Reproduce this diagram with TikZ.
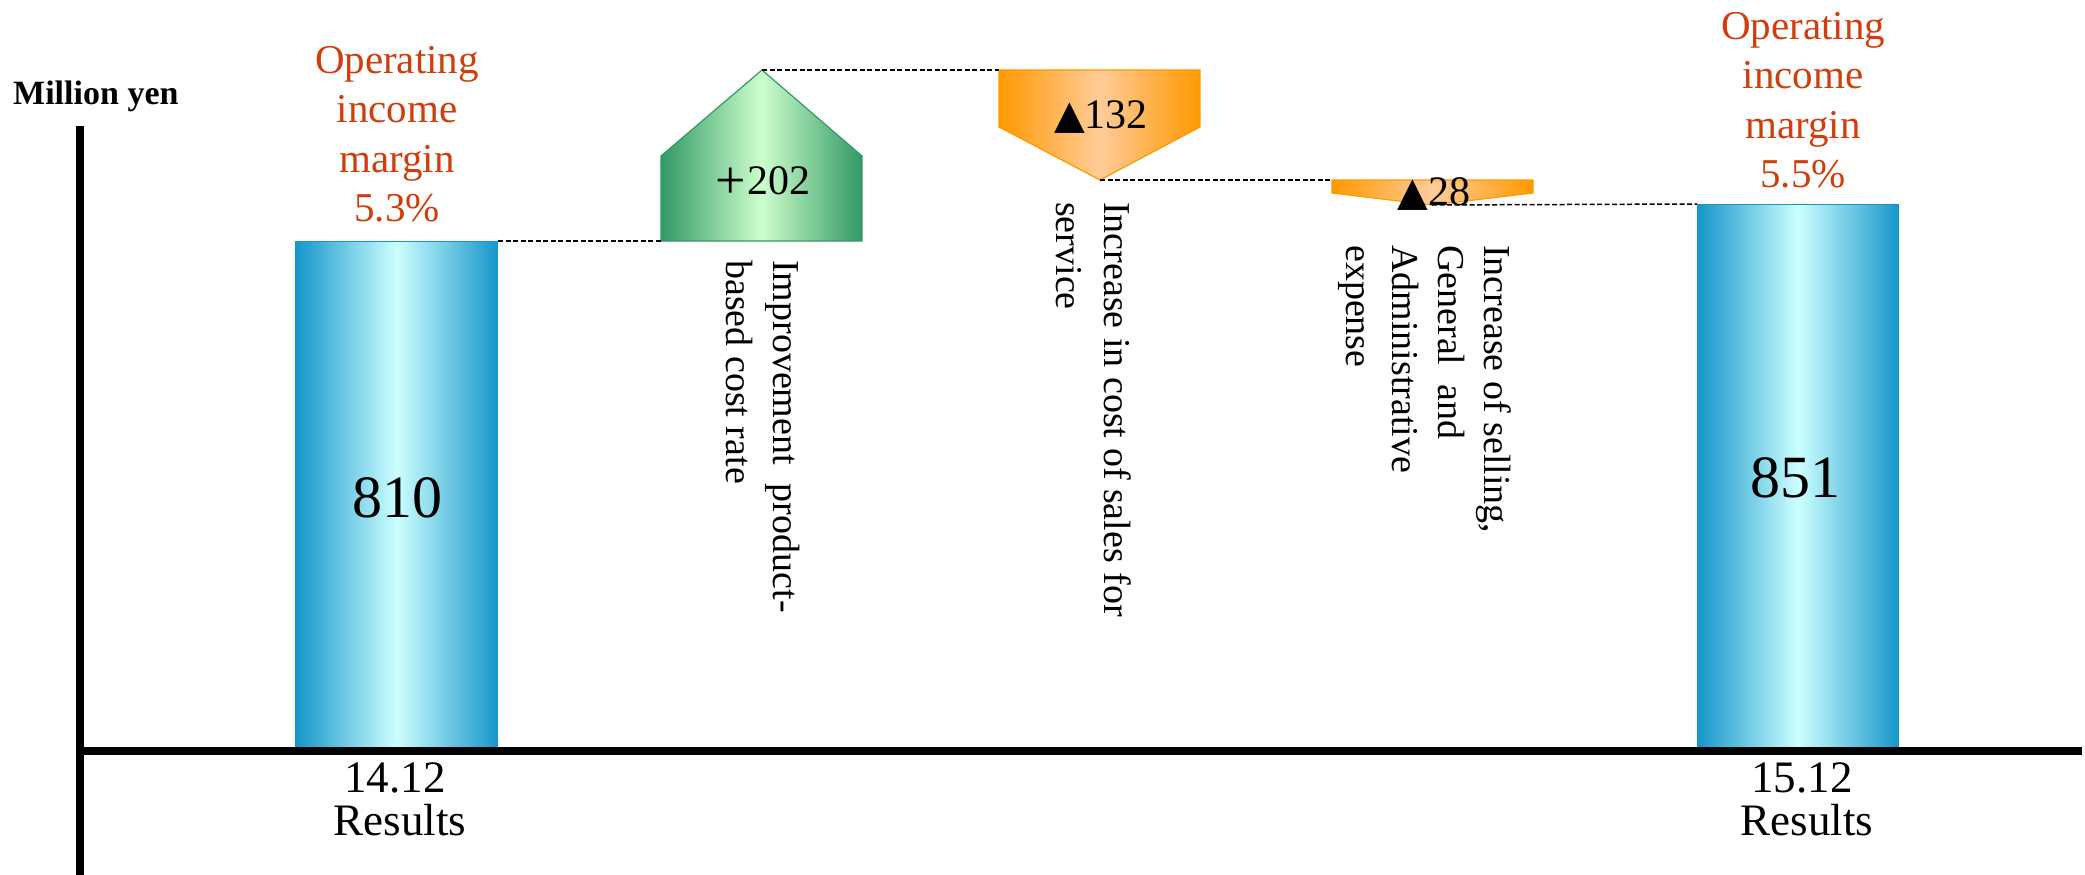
\documentclass[tikz,border=0pt]{standalone}
\usepackage{fontspec}
\setmainfont{Liberation Serif}
\newfontfamily\symfont{DejaVu Sans}
\definecolor{barblue}{RGB}{22,150,202}
\definecolor{barlight}{RGB}{204,255,255}
\definecolor{upgreen}{RGB}{51,153,102}
\definecolor{uplight}{RGB}{204,255,204}
\definecolor{downorange}{RGB}{255,153,0}
\definecolor{downlight}{RGB}{255,204,153}
\definecolor{marginred}{RGB}{208,62,14}
\begin{document}
\begin{tikzpicture}[x=1pt,y=-1pt,
  bar/.style={draw=barblue, line width=1.2pt, left color=barblue, right color=barblue, middle color=barlight, inner sep=0},
  upshape/.style={draw=upgreen, line width=1.2pt, left color=upgreen, right color=upgreen, middle color=uplight},
  downshape/.style={draw=downorange, line width=1.2pt, left color=downorange, right color=downorange, middle color=downlight},
  link/.style={draw=black, line width=1.5pt, dash pattern=on 5pt off 2.5pt},
  axisline/.style={line width=8pt, line cap=butt},
  margintext/.style={text=marginred, font=\fontsize{41}{49.5}\selectfont, align=center, inner sep=0, anchor=north},
  vlabel/.style={rotate=-90, anchor=north west, align=left, inner sep=0},
  valtext/.style={font=\fontsize{42}{50}\selectfont, inner sep=0, anchor=base},
  bigval/.style={font=\fontsize{60}{60}\selectfont, inner sep=0, anchor=base},
  period/.style={font=\fontsize{45}{45}\selectfont, inner sep=0, anchor=base}
]
\useasboundingbox (0,0) rectangle (2085,875);

% bars
\node[bar, minimum width=202pt, minimum height=510pt, anchor=north west] (b1) at (295,241) {};
\node[bar, minimum width=201pt, minimum height=547pt, anchor=north west] (b2) at (1697,204) {};
\node[bigval] (v1) at (397,517) {810};
\node[bigval] (v2) at (1795,497) {851};

% green up shape
\coordinate (g1) at (661,241);
\coordinate (g2) at (661,156);
\coordinate (ga) at (762,70);
\coordinate (g4) at (862,156);
\coordinate (g5) at (862,241);
\path[upshape] (g1) -- (g2) -- (ga) -- (g4) -- (g5) -- cycle;
\node[valtext] (t1) at (763,194) {\raisebox{-4pt}{\fontsize{54}{54}\selectfont +}\kern1pt 202};

% orange down shape 1
\coordinate (o1) at (999,70);
\coordinate (o2) at (1200,70);
\coordinate (o3) at (1200,127);
\coordinate (ot) at (1100,180);
\coordinate (o5) at (999,127);
\path[downshape] (o1) -- (o2) -- (o3) -- (ot) -- (o5) -- cycle;
\node[valtext] (t2) at (1101,128) {{\symfont\fontsize{40}{40}\selectfont ▲}132};

% orange down shape 2
\coordinate (p1) at (1332,180);
\coordinate (p2) at (1533,180);
\coordinate (p3) at (1533,193);
\coordinate (pt) at (1432,205);
\coordinate (p5) at (1332,193);
\path[downshape] (p1) -- (p2) -- (p3) -- (pt) -- (p5) -- cycle;
\node[valtext] (t3) at (1434,205) {{\symfont\fontsize{40}{40}\selectfont ▲}28};

% dashed links
\draw[link] (b1.north east) -- (g1);
\draw[link] (ga) -- (o1);
\draw[link] (ot) -- (p1);
\draw[link] (pt) -- (b2.north west);

% axes
\coordinate (ytop) at (80,126);
\coordinate (ybot) at (80,875);
\coordinate (xl) at (76,751);
\coordinate (xr) at (2082,751);
\draw[axisline] (ytop) -- (ybot);
\draw[axisline] (xl) -- (xr);

% labels
\node[inner sep=0, anchor=base west, font=\bfseries\fontsize{34}{34}\selectfont] (unit) at (13,104) {Million yen};
\node[margintext] (m1) at (397,46) {Operating\\income\\margin\\5.3\%};
\node[margintext] (m2) at (1803,12) {Operating\\income\\margin\\5.5\%};

\node[vlabel, font=\fontsize{38}{47}\selectfont] (l1) at (800,260) {Improvement~~product-\\based cost rate};
\node[vlabel, font=\fontsize{38}{48}\selectfont] (l2) at (1131,202) {Increase in cost of sales for\\service};
\node[vlabel, font=\fontsize{38}{46}\selectfont] (l3) at (1511,245) {Increase of selling,\\General~~and\\Administrative\\expense};

\node[period] (d1a) at (395,792) {14.12};
\node[period] (d1b) at (400,835) {Results};
\node[period] (d2a) at (1802,792) {15.12};
\node[period] (d2b) at (1807,835) {Results};
\end{tikzpicture}
\end{document}
